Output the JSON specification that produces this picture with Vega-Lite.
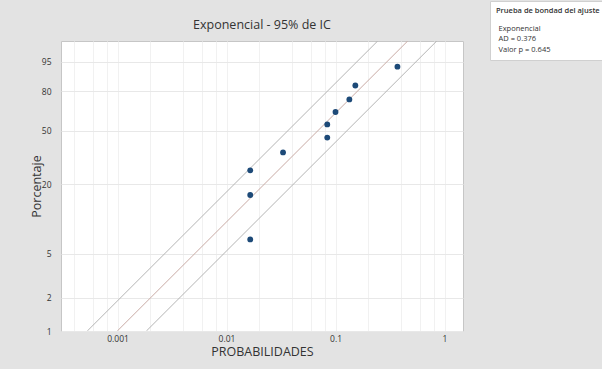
{
  "$schema": "https://vega.github.io/schema/vega-lite/v6.json",
  "width": 402,
  "height": 290,
  "autosize": {"type": "none"},
  "padding": {"left": 61, "top": 41, "right": 139, "bottom": 38},
  "background": "#e3e3e3",
  "title": {"text": "Exponencial - 95% de IC", "fontSize": 12.5, "fontWeight": "normal", "color": "#333333", "font": "Open Sans", "anchor": "middle", "frame": "group", "offset": -31},
  "config": {
    "view": {"fill": "white", "stroke": "#c6c6c6", "strokeWidth": 1},
    "font": "Open Sans",
    "axis": {"domain": false, "ticks": false, "labelFontSize": 8.5, "labelColor": "#333333", "titleFontSize": 12.5, "titleFontWeight": "normal", "titleColor": "#333333", "gridColor": "#ececec", "gridWidth": 1},
    "legend": {"orient": "none", "legendX": 429, "legendY": -40, "fillColor": "white", "strokeColor": "#d0d0d0", "padding": 6, "titleFontSize": 7.5, "titleFontWeight": 600, "titleColor": "#333333", "titlePadding": 11, "labelFontSize": 7.5, "labelColor": "#333333", "labelOffset": -5, "symbolSize": 0, "symbolOpacity": 0, "symbolStrokeWidth": 0, "rowPadding": 1.2}
  },
  "datasets": {
    "puntos": [
      {"tiempo": 0.0165, "pct": 6.73, "t": 0.0697},
      {"tiempo": 0.0165, "pct": 16.35, "t": 0.1785},
      {"tiempo": 0.0165, "pct": 25.96, "t": 0.3006},
      {"tiempo": 0.033, "pct": 35.58, "t": 0.4398},
      {"tiempo": 0.084, "pct": 45.19, "t": 0.6013},
      {"tiempo": 0.084, "pct": 54.81, "t": 0.7944},
      {"tiempo": 0.1, "pct": 64.42, "t": 1.0335},
      {"tiempo": 0.134, "pct": 74.04, "t": 1.3486},
      {"tiempo": 0.152, "pct": 83.65, "t": 1.811},
      {"tiempo": 0.37, "pct": 93.27, "t": 2.698}
    ],
    "lineas": [
      {"linea": "ajuste", "tiempo": 0.000995, "t": 0.01005},
      {"linea": "ajuste", "tiempo": 0.4594, "t": 4.64},
      {"linea": "superior", "tiempo": 0.000528, "t": 0.01005},
      {"linea": "superior", "tiempo": 0.2436, "t": 4.64},
      {"linea": "inferior", "tiempo": 0.00184, "t": 0.01005},
      {"linea": "inferior", "tiempo": 0.849, "t": 4.64}
    ],
    "bondad": [
      {"info": "Exponencial"},
      {"info": "AD = 0.376"},
      {"info": "Valor p = 0.645"}
    ]
  },
  "encoding": {
    "x": {
      "field": "tiempo", "type": "quantitative",
      "scale": {"type": "log", "domain": [0.000303, 1.478], "nice": false},
      "axis": {
        "title": "PROBABILIDADES",
        "values": [0.0004, 0.0006, 0.0008, 0.001, 0.002, 0.004, 0.006, 0.008, 0.01, 0.02, 0.04, 0.06, 0.08, 0.1, 0.2, 0.4, 0.6, 0.8, 1],
        "labelExpr": "indexof([0.001, 0.01, 0.1, 1], datum.value) >= 0 ? format(datum.value, '~g') : ''",
        "labelPadding": 3,
        "titlePadding": 3,
        "gridColor": "#f1f1f1"
      }
    },
    "y": {
      "field": "t", "type": "quantitative",
      "scale": {"type": "log", "domain": [0.0100503, 4.64], "nice": false},
      "axis": {
        "title": "Porcentaje",
        "values": [0.0100503, 0.0202027, 0.0512933, 0.2231436, 0.6931472, 1.6094379, 2.9957323],
        "labelExpr": "format((1 - exp(-datum.value)) * 100, '.0f')",
        "labelPadding": 10,
        "titlePadding": -2,
        "gridColor": "#e8e8e8"
      }
    }
  },
  "layer": [
    {
      "data": {"name": "lineas"},
      "mark": {"type": "line", "strokeWidth": 1, "clip": true},
      "encoding": {
        "detail": {"field": "linea", "type": "nominal"},
        "stroke": {
          "field": "linea", "type": "nominal",
          "scale": {"domain": ["ajuste", "superior", "inferior"], "range": ["#c8aaa4", "#b4b4b4", "#b4b4b4"]},
          "legend": null
        }
      }
    },
    {
      "data": {"name": "puntos"},
      "mark": {"type": "circle", "size": 34, "color": "#1d4a78", "opacity": 1}
    },
    {
      "data": {"name": "bondad"},
      "mark": {"type": "point", "opacity": 0},
      "encoding": {
        "x": {"value": 0},
        "y": {"value": 0},
        "color": {
          "field": "info", "type": "nominal",
          "scale": {"domain": ["Exponencial", "AD = 0.376", "Valor p = 0.645"], "range": ["white", "white", "white"]},
          "legend": {"title": "Prueba de bondad del ajuste"}
        }
      }
    }
  ]
}
